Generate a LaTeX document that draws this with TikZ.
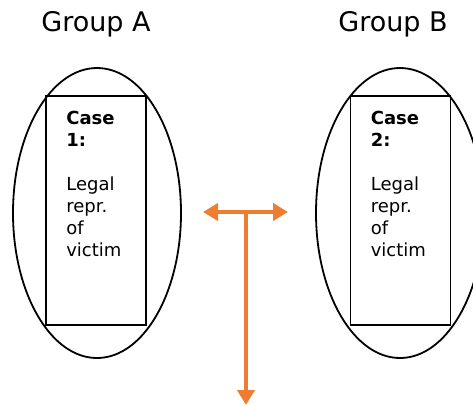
\documentclass[tikz,border=0pt]{standalone}
\usepackage{fontspec}
\setmainfont{DejaVu Sans}
\usetikzlibrary{arrows.meta, shapes.geometric, positioning, calc}
\definecolor{linkorange}{RGB}{237,125,49}

\begin{document}
\begin{tikzpicture}[x=1pt, y=-1pt,
    group/.style={draw, line width=1.8pt, ellipse, minimum width=168pt, minimum height=290pt},
    casebox/.style={draw, line width=1.8pt, minimum width=100pt, minimum height=229pt, inner sep=0pt},
    casetext/.style={anchor=north west, align=left, inner sep=0pt, font=\fontsize{18}{22}\selectfont},
    grouplabel/.style={font=\fontsize{27}{32}\selectfont},
    link/.style={linkorange, line width=4.5pt, -{Triangle[width=17pt, length=15pt]}}]
      \useasboundingbox (0, 0) rectangle (473, 405);

      \node[grouplabel] (labA) at (96, 24) {Group A};
      \node[grouplabel] (labB) at (393, 24) {Group B};

      \node[group] (grpA) at (97, 213) {};
      \node[group] (grpB) at (400, 213) {};

      \node[casebox] (caseA) at (96, 210.5) {};
      \node[casebox] (caseB) at (400.5, 210.5) {};

      \node[casetext] (txtA) at ($(caseA.north west) + (21, 16)$) {\textbf{Case}\\\textbf{1:}\\[22pt]Legal\\repr.\\of\\victim};
      \node[casetext] (txtB) at ($(caseB.north west) + (21, 16)$) {\textbf{Case}\\\textbf{2:}\\[22pt]Legal\\repr.\\of\\victim};

      \coordinate (mid) at (246, 212);
      \coordinate (left) at (203, 212);
      \coordinate (right) at (288, 212);
      \coordinate (down) at (246, 405);

      \draw[link] (mid) -- (left);
      \draw[link] (mid) -- (right);
      \draw[link] (mid) -- (down);

    \end{tikzpicture}
\end{document}
